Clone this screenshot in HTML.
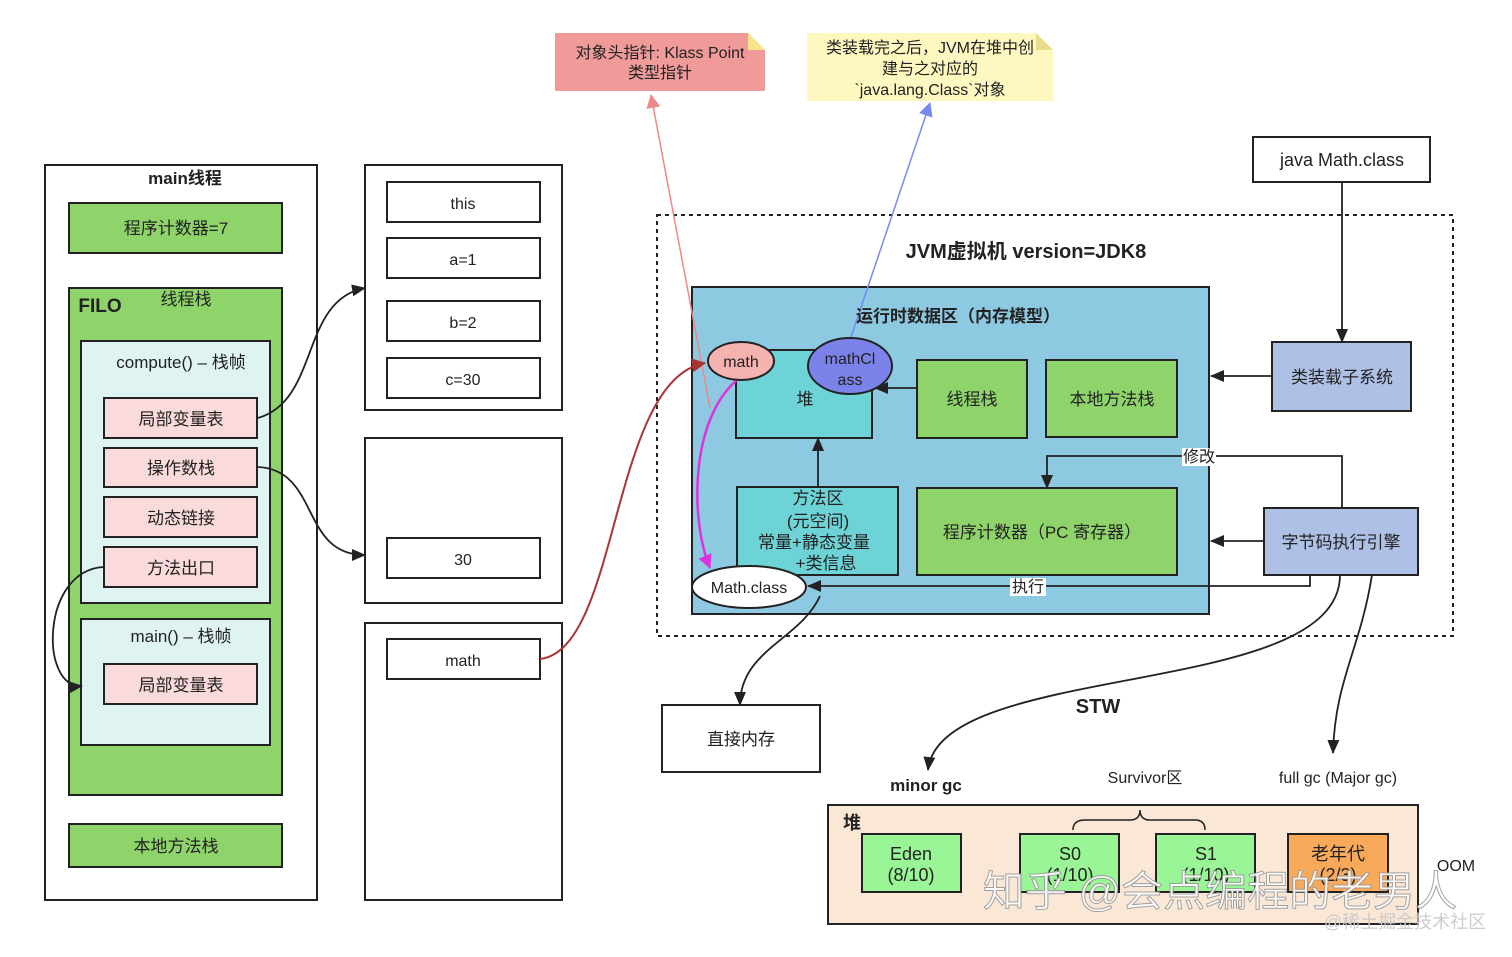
<!DOCTYPE html><html><head><meta charset="utf-8"><style>body{margin:0;background:#fff}svg{display:block}text{font-family:"Liberation Sans","Noto Sans CJK SC",sans-serif;fill:#222}</style></head><body>
<svg width="1512" height="957" viewBox="0 0 1512 957" xmlns="http://www.w3.org/2000/svg">
<defs><marker id="a" markerWidth="14" markerHeight="14" refX="13" refY="7" orient="auto" markerUnits="userSpaceOnUse"><path d="M0,1L14,7L0,13z" fill="#222"/></marker>
<marker id="ar" markerWidth="14" markerHeight="14" refX="13" refY="7" orient="auto" markerUnits="userSpaceOnUse"><path d="M0,0L14,7L0,14z" fill="#a33"/></marker>
<marker id="am" markerWidth="14" markerHeight="14" refX="13" refY="7" orient="auto" markerUnits="userSpaceOnUse"><path d="M0,0L14,7L0,14z" fill="#d3d"/></marker>
<marker id="ap" markerWidth="14" markerHeight="14" refX="13" refY="7" orient="auto" markerUnits="userSpaceOnUse"><path d="M0,0L14,7L0,14z" fill="#e88"/></marker>
<marker id="ab" markerWidth="14" markerHeight="14" refX="13" refY="7" orient="auto" markerUnits="userSpaceOnUse"><path d="M0,0L14,7L0,14z" fill="#78e"/></marker></defs>
<g stroke="#222" stroke-width="2">
<rect x="45" y="165" width="272" height="735" fill="#fff"/>
<rect x="69" y="203" width="213" height="50" fill="#8fd46a"/>
<rect x="69" y="288" width="213" height="507" fill="#8fd46a"/>
<rect x="81" y="341" width="189" height="262" fill="#dff3f3"/>
<rect x="104" y="398" width="153" height="40" fill="#fadadb"/>
<rect x="104" y="448" width="153" height="39" fill="#fadadb"/>
<rect x="104" y="497" width="153" height="40" fill="#fadadb"/>
<rect x="104" y="547" width="153" height="40" fill="#fadadb"/>
<rect x="81" y="619" width="189" height="126" fill="#dff3f3"/>
<rect x="104" y="664" width="153" height="40" fill="#fadadb"/>
<rect x="69" y="824" width="213" height="43" fill="#8fd46a"/>
<rect x="365" y="165" width="197" height="245" fill="#fff"/>
<rect x="387" y="182" width="153" height="40" fill="#fff"/>
<rect x="387" y="238" width="153" height="40" fill="#fff"/>
<rect x="387" y="301" width="153" height="40" fill="#fff"/>
<rect x="387" y="358" width="153" height="40" fill="#fff"/>
<rect x="365" y="438" width="197" height="165" fill="#fff"/>
<rect x="387" y="538" width="153" height="40" fill="#fff"/>
<rect x="365" y="623" width="197" height="277" fill="#fff"/>
<rect x="387" y="639" width="153" height="40" fill="#fff"/>
<rect x="657" y="215" width="796" height="421" fill="none" stroke-dasharray="4,4"/>
<rect x="692" y="287" width="517" height="327" fill="#8ec9e2"/>
<rect x="736" y="350" width="136" height="88" fill="#6dd3d6"/>
<rect x="917" y="360" width="110" height="78" fill="#8fd46a"/>
<rect x="1046" y="360" width="131" height="77" fill="#8fd46a"/>
<rect x="737" y="487" width="161" height="88" fill="#6dd3d6"/>
<rect x="917" y="488" width="260" height="87" fill="#8fd46a"/>
<rect x="1253" y="137" width="177" height="45" fill="#fff"/>
<rect x="1272" y="342" width="139" height="69" fill="#aec0e6"/>
<rect x="1264" y="508" width="154" height="67" fill="#aec0e6"/>
<rect x="662" y="705" width="158" height="67" fill="#fff"/>
<rect x="828" y="805" width="590" height="119" fill="#fbe7d6"/>
<rect x="862" y="834" width="99" height="58" fill="#99f595"/>
<rect x="1020" y="834" width="99" height="58" fill="#99f595"/>
<rect x="1156" y="834" width="99" height="58" fill="#99f595"/>
<rect x="1288" y="834" width="100" height="58" fill="#f9a95a"/>
</g>
<path d="M555,33H748L765,50V91H555z" fill="#f09a9a"/><path d="M748,33L765,50H748z" fill="#f6e58a"/>
<path d="M807,33H1036L1053,50V101H807z" fill="#fff7c0"/><path d="M1036,33L1053,50H1036z" fill="#e8dc8a"/>
<g fill="none" stroke-width="1.5">
<path d="M710,408 L651,95" stroke="#e88" marker-end="url(#ap)"/>
<path d="M850,340 L930,103" stroke="#78e" marker-end="url(#ab)"/>
<path d="M540,659 C620,650 610,380 705,363" stroke="#a33" stroke-width="2" marker-end="url(#ar)"/>
<path d="M737,380 C690,420 690,520 710,568" stroke="#d3d" stroke-width="2.5" marker-end="url(#am)"/>
</g>
<g fill="none" stroke="#222" stroke-width="1.8" marker-end="url(#a)">
<path d="M258,418 C320,400 300,300 365,288"/>
<path d="M258,467 C320,470 300,555 365,555"/>
<path d="M104,567 C40,570 40,690 82,686"/>
<path d="M818,487 L818,438"/>
<path d="M917,388 L875,388"/>
<path d="M1342,182 L1342,342"/>
<path d="M1272,376 L1211,376"/>
<path d="M1264,541 L1211,541"/>
<path d="M1342,508 L1342,456 L1047,456 L1047,488"/>
<path d="M1310,575 L1310,586 L808,586"/>
<path d="M820,596 C800,640 740,650 740,705"/>
<path d="M1340,575 C1340,700 940,660 928,770"/>
<path d="M1372,575 C1360,650 1335,680 1333,753"/>
</g>
<path d="M1073,830 Q1073,820 1085,820 L1130,820 Q1140,820 1140,810 Q1140,820 1150,820 L1195,820 Q1205,820 1205,830" fill="none" stroke="#222" stroke-width="1.5"/>
<ellipse cx="741" cy="361" rx="33" ry="19" fill="#f5b3b0" stroke="#222" stroke-width="2"/>
<ellipse cx="850" cy="366" rx="42" ry="28" fill="#7b83ea" stroke="#222" stroke-width="2"/>
<ellipse cx="749" cy="587" rx="57" ry="21" fill="#fff" stroke="#222" stroke-width="2"/>
<rect x="1182" y="448" width="34" height="18" fill="#fff"/><rect x="1010" y="578" width="36" height="18" fill="#fff"/>
<g font-size="17" text-anchor="middle">
<text x="185" y="184" font-weight="bold">main线程</text>
<text x="176" y="234">程序计数器=7</text>
<text x="100" y="312" font-size="19" font-weight="bold">FILO</text>
<text x="186" y="305">线程栈</text>
<text x="181" y="368">compute() – 栈帧</text>
<text x="181" y="425">局部变量表</text><text x="181" y="474">操作数栈</text><text x="181" y="524">动态链接</text><text x="181" y="574">方法出口</text>
<text x="181" y="642">main() – 栈帧</text><text x="181" y="691">局部变量表</text>
<text x="176" y="852">本地方法栈</text>
<text x="463" y="209" font-size="16">this</text><text x="463" y="265" font-size="16">a=1</text><text x="463" y="328" font-size="16">b=2</text><text x="463" y="385" font-size="16">c=30</text><text x="463" y="565" font-size="16">30</text><text x="463" y="666" font-size="16">math</text>
<text x="660" y="58" font-size="16">对象头指针: Klass Point</text><text x="660" y="78" font-size="16">类型指针</text>
<text x="930" y="53" font-size="16">类装载完之后，JVM在堆中创</text><text x="930" y="74" font-size="16">建与之对应的</text><text x="930" y="95" font-size="16">`java.lang.Class`对象</text>
<text x="1026" y="258" font-size="20" font-weight="bold">JVM虚拟机 version=JDK8</text>
<text x="958" y="322" font-weight="bold">运行时数据区（内存模型）</text>
<text x="741" y="367" font-size="16">math</text><text x="850" y="364" font-size="16">mathCl</text><text x="850" y="385" font-size="16">ass</text>
<text x="805" y="405">堆</text><text x="972" y="405">线程栈</text><text x="1112" y="405">本地方法栈</text>
<text x="818" y="504">方法区</text><text x="818" y="527">(元空间)</text><text x="814" y="548">常量+静态变量</text><text x="826" y="569">+类信息</text>
<text x="1042" y="538">程序计数器（PC 寄存器）</text>
<text x="749" y="593" font-size="16">Math.class</text>
<text x="1199" y="462" font-size="16">修改</text><text x="1028" y="592" font-size="16">执行</text>
<text x="1342" y="166" font-size="18">java Math.class</text>
<text x="1342" y="383">类装载子系统</text><text x="1341" y="548">字节码执行引擎</text>
<text x="741" y="745">直接内存</text>
<text x="1098" y="713" font-size="20" font-weight="bold">STW</text>
<text x="926" y="791" font-weight="bold">minor gc</text><text x="1145" y="783" font-size="16">Survivor区</text><text x="1338" y="783" font-size="16">full gc (Major gc)</text>
<text x="852" y="829" font-weight="bold" font-size="18">堆</text>
<text x="911" y="860" font-size="18">Eden</text><text x="911" y="881" font-size="18">(8/10)</text>
<text x="1070" y="860" font-size="18">S0</text><text x="1070" y="881" font-size="18">(1/10)</text>
<text x="1206" y="860" font-size="18">S1</text><text x="1206" y="881" font-size="18">(1/10)</text>
<text x="1338" y="860" font-size="18">老年代</text><text x="1338" y="881" font-size="18">(2/3)</text>
<text x="1456" y="871" font-size="16">OOM</text>
</g>
<text x="1220" y="906" font-size="42" text-anchor="middle" style="fill:#fff;stroke:#999;stroke-width:1" opacity="0.9">知乎 @会点编程的老男人</text>
<text x="1405" y="928" font-size="18" text-anchor="middle" style="fill:#ccc">@稀土掘金技术社区</text>
</svg></body></html>
